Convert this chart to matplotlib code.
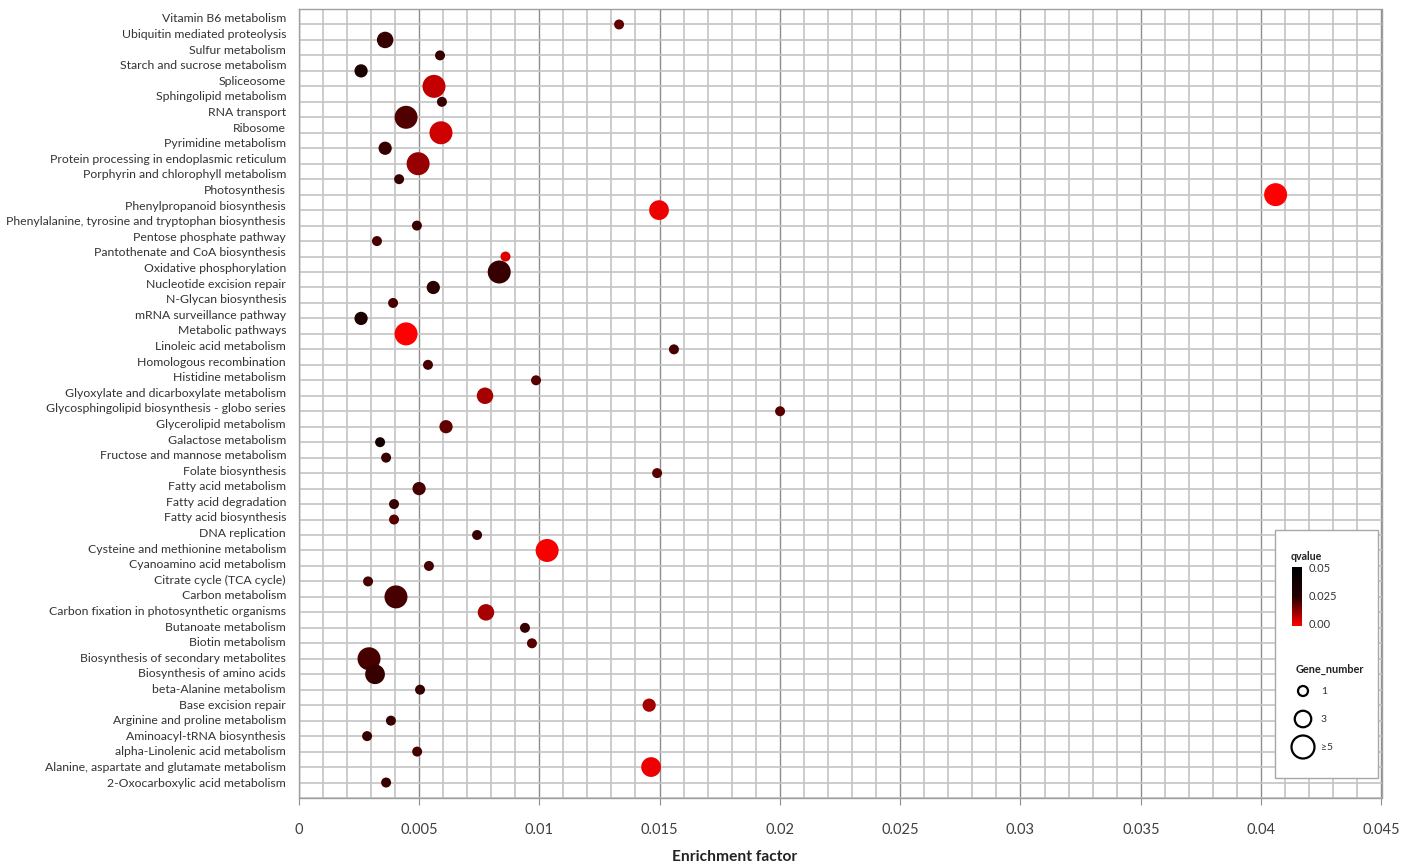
import numpy as np
import matplotlib
matplotlib.use('Agg')
import matplotlib.pyplot as plt
from matplotlib.colors import LinearSegmentedColormap
from matplotlib.patches import Rectangle

# KEGG pathways, top to bottom
pathways = [
    'Vitamin B6 metabolism', 'Ubiquitin mediated proteolysis', 'Sulfur metabolism',
    'Starch and sucrose metabolism', 'Spliceosome', 'Sphingolipid metabolism',
    'RNA transport', 'Ribosome', 'Pyrimidine metabolism',
    'Protein processing in endoplasmic reticulum', 'Porphyrin and chlorophyll metabolism',
    'Photosynthesis', 'Phenylpropanoid biosynthesis',
    'Phenylalanine, tyrosine and tryptophan biosynthesis', 'Pentose phosphate pathway',
    'Pantothenate and CoA biosynthesis', 'Oxidative phosphorylation',
    'Nucleotide excision repair', 'N-Glycan biosynthesis', 'mRNA surveillance pathway',
    'Metabolic pathways', 'Linoleic acid metabolism', 'Homologous recombination',
    'Histidine metabolism', 'Glyoxylate and dicarboxylate metabolism',
    'Glycosphingolipid biosynthesis - globo series', 'Glycerolipid metabolism',
    'Galactose metabolism', 'Fructose and mannose metabolism', 'Folate biosynthesis',
    'Fatty acid metabolism', 'Fatty acid degradation', 'Fatty acid biosynthesis',
    'DNA replication', 'Cysteine and methionine metabolism', 'Cyanoamino acid metabolism',
    'Citrate cycle (TCA cycle)', 'Carbon metabolism',
    'Carbon fixation in photosynthetic organisms', 'Butanoate metabolism',
    'Biotin metabolism', 'Biosynthesis of secondary metabolites',
    'Biosynthesis of amino acids', 'beta-Alanine metabolism', 'Base excision repair',
    'Arginine and proline metabolism', 'Aminoacyl-tRNA biosynthesis',
    'alpha-Linolenic acid metabolism', 'Alanine, aspartate and glutamate metabolism',
    '2-Oxocarboxylic acid metabolism',
]

enrichment = [
    0.01332, 0.0036, 0.00588, 0.0026, 0.00563, 0.00596, 0.00447, 0.00592, 0.0036,
    0.00497, 0.00418, 0.0406, 0.01498, 0.00492, 0.00326, 0.0086, 0.00834,
    0.0056, 0.00393, 0.0026, 0.00447, 0.0156, 0.00538, 0.00987, 0.00775,
    0.02001, 0.00613, 0.00339, 0.00364, 0.0149, 0.00501, 0.00397, 0.00397,
    0.00742, 0.01033, 0.00542, 0.00289, 0.00405, 0.00779, 0.00941,
    0.0097, 0.00293, 0.00318, 0.00505, 0.01457, 0.00384, 0.00285,
    0.00493, 0.01465, 0.00364,
]

qvalues = [
    0.018, 0.023, 0.023, 0.030, 0.007, 0.023, 0.020, 0.0056, 0.023,
    0.012, 0.023, 0.0, 0.002, 0.023, 0.021, 0.004, 0.023,
    0.024, 0.021, 0.030, 0.0, 0.021, 0.021, 0.019, 0.0103,
    0.019, 0.018, 0.035, 0.023, 0.019, 0.021, 0.023, 0.019,
    0.023, 0.001, 0.021, 0.021, 0.021, 0.0103, 0.023,
    0.019, 0.021, 0.023, 0.023, 0.0103, 0.023, 0.023,
    0.021, 0.002, 0.023,
]

gene_numbers = [
    1, 3, 1, 2, 5, 1, 5, 5, 2,
    5, 1, 5, 4, 1, 1, 1, 5,
    2, 1, 2, 5, 1, 1, 1, 3,
    1, 2, 1, 1, 1, 2, 1, 1,
    1, 5, 1, 1, 5, 3, 1,
    1, 5, 4, 1, 2, 1, 1,
    1, 4, 1,
]

xtick_labels = ['0', '0.005', '0.01', '0.015', '0.02', '0.025', '0.03', '0.035', '0.04', '0.045']
legend_genes = [1, 3, 5]
legend_gene_labels = ['1', '3', '\u22655']
cbar_labels = ['0.05', '0.025', '0.00']

plt.rcParams['font.family'] = ['Lato', 'DejaVu Sans']

W, H = 1424, 867
fig = plt.figure(figsize=(W / 100, H / 100), dpi=100)

# plot area in pixels
left, right, top, bottom = 298.5, 1381.5, 9, 798
ax = fig.add_axes([left / W, 1 - bottom / H, (right - left) / W, (bottom - top) / H])

qcmap = LinearSegmentedColormap.from_list(
    'qv', [(0, '#ff0000'), (0.5, '#240000'), (1, '#000000')])


def dot_size(n):
    d = 6.75 + 3.25 * np.minimum(np.asarray(n), 5)   # diameter in px
    return (d * 0.72) ** 2


npw = len(pathways)
ypos = npw - np.arange(npw)
ax.scatter(enrichment, ypos, s=dot_size(gene_numbers), c=qvalues, cmap=qcmap,
           vmin=0, vmax=0.05, linewidths=0, zorder=3)

ax.set_xlim(0, 0.045)
ax.set_ylim(0, npw + 1)
ax.set_xticks(np.arange(10) * 0.005)
ax.set_xticklabels(xtick_labels)
ax.set_xticks([i * 0.001 for i in range(46) if i % 5], minor=True)
ax.set_yticks(np.arange(0, npw + 2), minor=True)
ax.set_yticks(np.linspace(npw + 0.42, 1.03, npw))
ax.set_yticklabels(pathways)

ax.grid(which='minor', color='#c4c4c4', lw=1.2)
ax.grid(which='major', axis='x', color='#8e8e8e', lw=1.0)
ax.set_axisbelow(True)
ax.tick_params(axis='y', which='both', length=0, pad=9, labelsize=8.8, labelcolor='#333333')
ax.tick_params(axis='x', which='major', length=5, direction='out', color='#8e8e8e',
               pad=13, labelsize=10.5, labelcolor='#404040')
ax.tick_params(axis='x', which='minor', length=0)
for sp in ax.spines.values():
    sp.set_color('#a0a0a0')
    sp.set_linewidth(1.0)

fig.text(735 / W, 1 - 857 / H, 'Enrichment factor', ha='center', va='center',
         fontsize=11.2, fontweight='bold', color='#222222')

# legend panel drawn in pixel coordinates
lax = fig.add_axes([0, 0, 1, 1])
lax.set_xlim(0, W)
lax.set_ylim(H, 0)
lax.axis('off')
lax.add_patch(Rectangle((1275, 530), 103, 248, facecolor='white', edgecolor='#a8a8a8', lw=1))
lax.text(1291, 557, 'qvalue', fontsize=7.7, fontweight='bold', va='center', color='#222222')
for lbl, yy in zip(cbar_labels, [569, 596, 624]):
    lax.text(1309, yy, lbl, fontsize=8, va='center', color='#333333')
lax.text(1296, 669, 'Gene_number', fontsize=7.9, fontweight='bold', va='center', color='#222222')
lax.scatter([1303] * 3, [691, 719, 747], s=dot_size(legend_genes), facecolors='none',
            edgecolors='black', linewidths=1.6)
for lbl, yy in zip(legend_gene_labels, [691, 719, 747]):
    lax.text(1321, yy, lbl, fontsize=7.5, va='center', color='#333333')

cax = fig.add_axes([1292 / W, 1 - 626 / H, 10 / W, 59 / H])
cax.imshow(np.linspace(0.05, 0, 200)[:, None], aspect='auto', cmap=qcmap, vmin=0, vmax=0.05)
cax.axis('off')

fig.savefig('out.png', dpi=100)
